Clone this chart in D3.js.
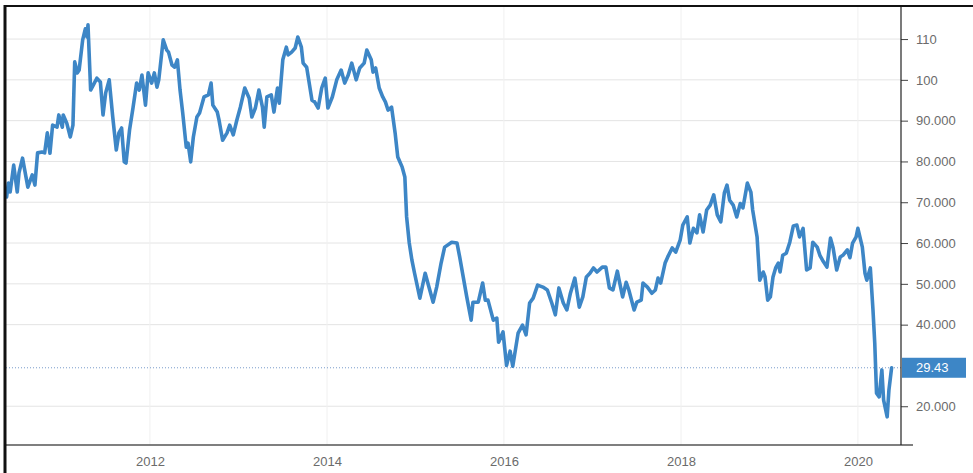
<!DOCTYPE html>
<html>
<head>
<meta charset="utf-8">
<script src="https://cdn.jsdelivr.net/npm/d3@7"></script>
<style>
  html, body { margin: 0; padding: 0; background: #fff; }
  svg { display: block; }
  .tick text { font-family: "Liberation Sans", Arial, sans-serif; font-size: 13px; fill: #6b6b6b; }
</style>
</head>
<body>
<svg id="chart" width="973" height="473"></svg>
<script>
// decimal-year time stamps
const dates = [
  2010.38,2010.40,2010.42,2010.46,2010.50,2010.52,2010.56,2010.62,2010.67,2010.70,
  2010.73,2010.78,2010.81,2010.84,2010.87,2010.90,2010.95,2010.97,2011.01,2011.02,
  2011.06,2011.10,2011.13,2011.15,2011.18,2011.20,2011.24,2011.27,2011.29,2011.30,
  2011.33,2011.36,2011.40,2011.44,2011.47,2011.50,2011.54,2011.58,2011.62,2011.65,
  2011.68,2011.71,2011.73,2011.77,2011.81,2011.85,2011.88,2011.91,2011.93,2011.95,
  2011.98,2012.02,2012.05,2012.08,2012.10,2012.15,2012.19,2012.21,2012.25,2012.28,
  2012.31,2012.34,2012.37,2012.41,2012.43,2012.46,2012.49,2012.53,2012.56,2012.61,
  2012.66,2012.69,2012.71,2012.76,2012.78,2012.82,2012.87,2012.90,2012.94,2012.98,
  2013.02,2013.07,2013.12,2013.15,2013.19,2013.23,2013.27,2013.29,2013.32,2013.37,
  2013.40,2013.44,2013.46,2013.50,2013.54,2013.56,2013.60,2013.64,2013.67,2013.71,
  2013.73,2013.77,2013.83,2013.86,2013.90,2013.94,2013.98,2014.01,2014.06,2014.11,
  2014.16,2014.20,2014.24,2014.28,2014.33,2014.37,2014.42,2014.45,2014.50,2014.52,
  2014.55,2014.59,2014.63,2014.66,2014.69,2014.73,2014.77,2014.80,2014.85,2014.88,
  2014.90,2014.93,2014.96,2014.99,2015.05,2015.11,2015.14,2015.20,2015.24,2015.29,
  2015.33,2015.41,2015.47,2015.50,2015.54,2015.58,2015.63,2015.65,2015.71,2015.76,
  2015.79,2015.82,2015.88,2015.92,2015.94,2015.99,2016.03,2016.07,2016.10,2016.16,
  2016.21,2016.25,2016.29,2016.33,2016.38,2016.44,2016.49,2016.54,2016.58,2016.62,
  2016.67,2016.71,2016.75,2016.80,2016.85,2016.89,2016.93,2016.97,2017.01,2017.05,
  2017.11,2017.15,2017.19,2017.23,2017.28,2017.30,2017.34,2017.38,2017.41,2017.47,
  2017.50,2017.55,2017.57,2017.62,2017.67,2017.71,2017.74,2017.77,2017.82,2017.85,
  2017.90,2017.94,2017.99,2018.02,2018.07,2018.10,2018.14,2018.18,2018.21,2018.25,
  2018.29,2018.33,2018.37,2018.41,2018.45,2018.49,2018.52,2018.55,2018.59,2018.63,
  2018.67,2018.70,2018.75,2018.79,2018.81,2018.86,2018.89,2018.93,2018.95,2018.98,
  2019.01,2019.04,2019.07,2019.10,2019.12,2019.15,2019.19,2019.23,2019.27,2019.31,
  2019.34,2019.38,2019.42,2019.46,2019.49,2019.54,2019.57,2019.60,2019.65,2019.69,
  2019.72,2019.76,2019.80,2019.83,2019.88,2019.91,2019.94,2019.98,2020.00,2020.05,
  2020.08,2020.10,2020.14,2020.17,2020.19,2020.21,2020.24,2020.27,2020.29,2020.33,
  2020.35,2020.38
];
const prices = [
  71.3,74.7,72.5,79.1,72.5,77.2,80.8,73.7,76.7,74.2,
  82.1,82.3,82.1,87.0,82.0,88.9,88.4,91.4,88.4,91.4,
  89.4,86.0,88.9,104.4,101.7,102.4,109.8,112.5,110.5,113.5,
  97.5,98.7,100.4,99.5,91.4,96.8,100.0,90.9,82.8,87.0,
  88.2,79.9,79.6,87.7,93.3,99.2,97.5,101.2,97.5,93.8,
  101.7,99.2,101.7,98.2,100.0,109.8,107.3,106.8,103.6,103.1,
  104.9,97.5,91.9,83.5,84.5,79.9,86.0,90.9,91.9,95.8,
  96.3,99.2,93.8,92.1,90.1,85.2,87.0,88.9,86.5,90.1,
  93.3,98.0,95.5,90.9,93.1,97.5,93.3,88.4,95.8,96.3,
  92.1,98.0,94.3,104.9,108.0,106.1,106.8,107.8,110.5,108.0,
  104.1,103.1,95.0,94.6,93.1,98.0,100.4,93.1,95.8,100.0,
  102.4,99.2,101.2,104.1,100.0,102.9,104.1,107.3,104.9,101.9,
  102.9,98.0,95.8,94.6,92.6,93.3,87.0,81.1,78.6,76.2,
  66.4,60.0,55.8,52.6,46.5,52.6,50.2,45.5,49.2,55.1,
  59.0,60.2,60.0,56.6,51.7,46.8,41.1,45.5,45.5,50.2,
  46.0,46.0,41.1,41.6,35.7,38.2,30.0,33.5,29.8,37.9,
  39.9,37.5,45.3,46.5,49.7,49.2,48.5,45.3,42.4,49.0,
  45.3,43.6,47.7,51.4,44.3,46.8,51.7,52.6,53.9,52.9,
  54.1,54.1,49.0,48.5,53.1,50.9,46.8,50.4,48.5,43.6,
  45.5,46.0,50.2,49.2,47.7,48.5,51.4,50.2,55.1,56.6,
  58.8,57.8,60.7,64.4,66.4,60.0,63.6,62.5,66.9,62.7,
  68.1,69.3,71.8,66.9,65.2,72.3,74.2,70.5,69.3,66.4,
  69.7,68.6,74.7,72.5,68.1,61.5,50.9,52.9,51.7,46.0,
  46.8,51.7,53.9,55.1,52.9,57.0,57.5,60.2,64.2,64.4,
  61.5,63.6,53.4,53.9,60.2,59.0,57.0,55.8,54.1,61.2,
  58.8,53.4,56.6,57.0,58.3,56.4,60.0,61.5,63.6,59.0,
  52.6,50.9,53.9,43.6,35.5,23.2,22.3,28.9,21.5,17.4,
  24.0,29.43
];
const yTicks = [20, 40, 50, 60, 70, 80, 90, 100, 110];
const yTickLabels = ["20.000", "40.000", "50.000", "60.000", "70.000", "80.000", "90.000", "100", "110"];
const xTickYears = [2012, 2014, 2016, 2018, 2020];
const lastValue = 29.43;
const lastLabel = "29.43";

function toDate(dy) {
  const yr = Math.floor(dy);
  const start = new Date(yr, 0, 1).getTime();
  const end = new Date(yr + 1, 0, 1).getTime();
  return new Date(start + (dy - yr) * (end - start));
}

const data = dates.map((d, i) => ({ date: toDate(d), value: prices[i] }));

const svg = d3.select("#chart");
const pLeft = 6, pRight = 901, pTop = 6, pBottom = 445;

const x = d3.scaleTime()
  .domain([toDate(2010.373), toDate(2020.486)])
  .range([pLeft, pRight]);
const y = d3.scaleLinear()
  .domain([10.5, 118.1])
  .range([pBottom, pTop]);

// horizontal grid
svg.append("g")
  .selectAll("line")
  .data(yTicks)
  .join("line")
  .attr("x1", pLeft).attr("x2", pRight)
  .attr("y1", d => y(d)).attr("y2", d => y(d))
  .attr("stroke", "#e4e4e4").attr("stroke-width", 1);

// vertical grid
svg.append("g")
  .selectAll("line")
  .data(xTickYears)
  .join("line")
  .attr("x1", d => x(new Date(d, 0, 1))).attr("x2", d => x(new Date(d, 0, 1)))
  .attr("y1", pTop).attr("y2", pBottom)
  .attr("stroke", "#f0f0f0").attr("stroke-width", 1);

// dotted last-value line
svg.append("line")
  .attr("x1", pLeft).attr("x2", pRight)
  .attr("y1", y(lastValue)).attr("y2", y(lastValue))
  .attr("stroke", "#7a9ccc").attr("stroke-width", 1)
  .attr("stroke-dasharray", "1,2");

// data line
svg.append("path")
  .datum(data)
  .attr("fill", "none")
  .attr("stroke", "#3d86c6")
  .attr("stroke-width", 3.6)
  .attr("stroke-linejoin", "round")
  .attr("stroke-linecap", "round")
  .attr("d", d3.line().x(d => x(d.date)).y(d => y(d.value)));

// bottom axis
const xAxis = d3.axisBottom(x)
  .tickValues(xTickYears.map(d => new Date(d, 0, 1)))
  .tickFormat(d3.timeFormat("%Y"))
  .tickSize(0).tickPadding(12);
const gx = svg.append("g").attr("transform", `translate(0,${pBottom})`).call(xAxis);
gx.select(".domain").remove();
svg.append("line")
  .attr("x1", pLeft).attr("x2", 913)
  .attr("y1", pBottom).attr("y2", pBottom)
  .attr("stroke", "#555").attr("stroke-width", 1.3);

// right axis
const yAxis = d3.axisRight(y)
  .tickValues(yTicks)
  .tickFormat((d, i) => yTickLabels[i])
  .tickSize(7).tickPadding(8);
const gy = svg.append("g").attr("transform", `translate(${pRight},0)`).call(yAxis);
gy.select(".domain").remove();
gy.selectAll(".tick line").attr("stroke", "#444");
svg.append("line")
  .attr("x1", pRight).attr("x2", pRight)
  .attr("y1", pTop).attr("y2", pBottom)
  .attr("stroke", "#222").attr("stroke-width", 1.2);

// last value badge
svg.append("rect")
  .attr("x", pRight + 1).attr("y", y(lastValue) - 10)
  .attr("width", 64).attr("height", 20)
  .attr("fill", "#3d86c6");
svg.append("text")
  .attr("x", pRight + 15).attr("y", y(lastValue))
  .attr("dy", "0.35em")
  .attr("font-family", "Liberation Sans, Arial, sans-serif")
  .attr("font-size", 13)
  .attr("fill", "#fff")
  .text(lastLabel);

// frame: top and left black borders
svg.append("line")
  .attr("x1", 4).attr("x2", 973).attr("y1", pTop).attr("y2", pTop)
  .attr("stroke", "#111").attr("stroke-width", 2);
svg.append("line")
  .attr("x1", 5).attr("x2", 5).attr("y1", pTop - 1).attr("y2", 473)
  .attr("stroke", "#111").attr("stroke-width", 3);
</script>
</body>
</html>
